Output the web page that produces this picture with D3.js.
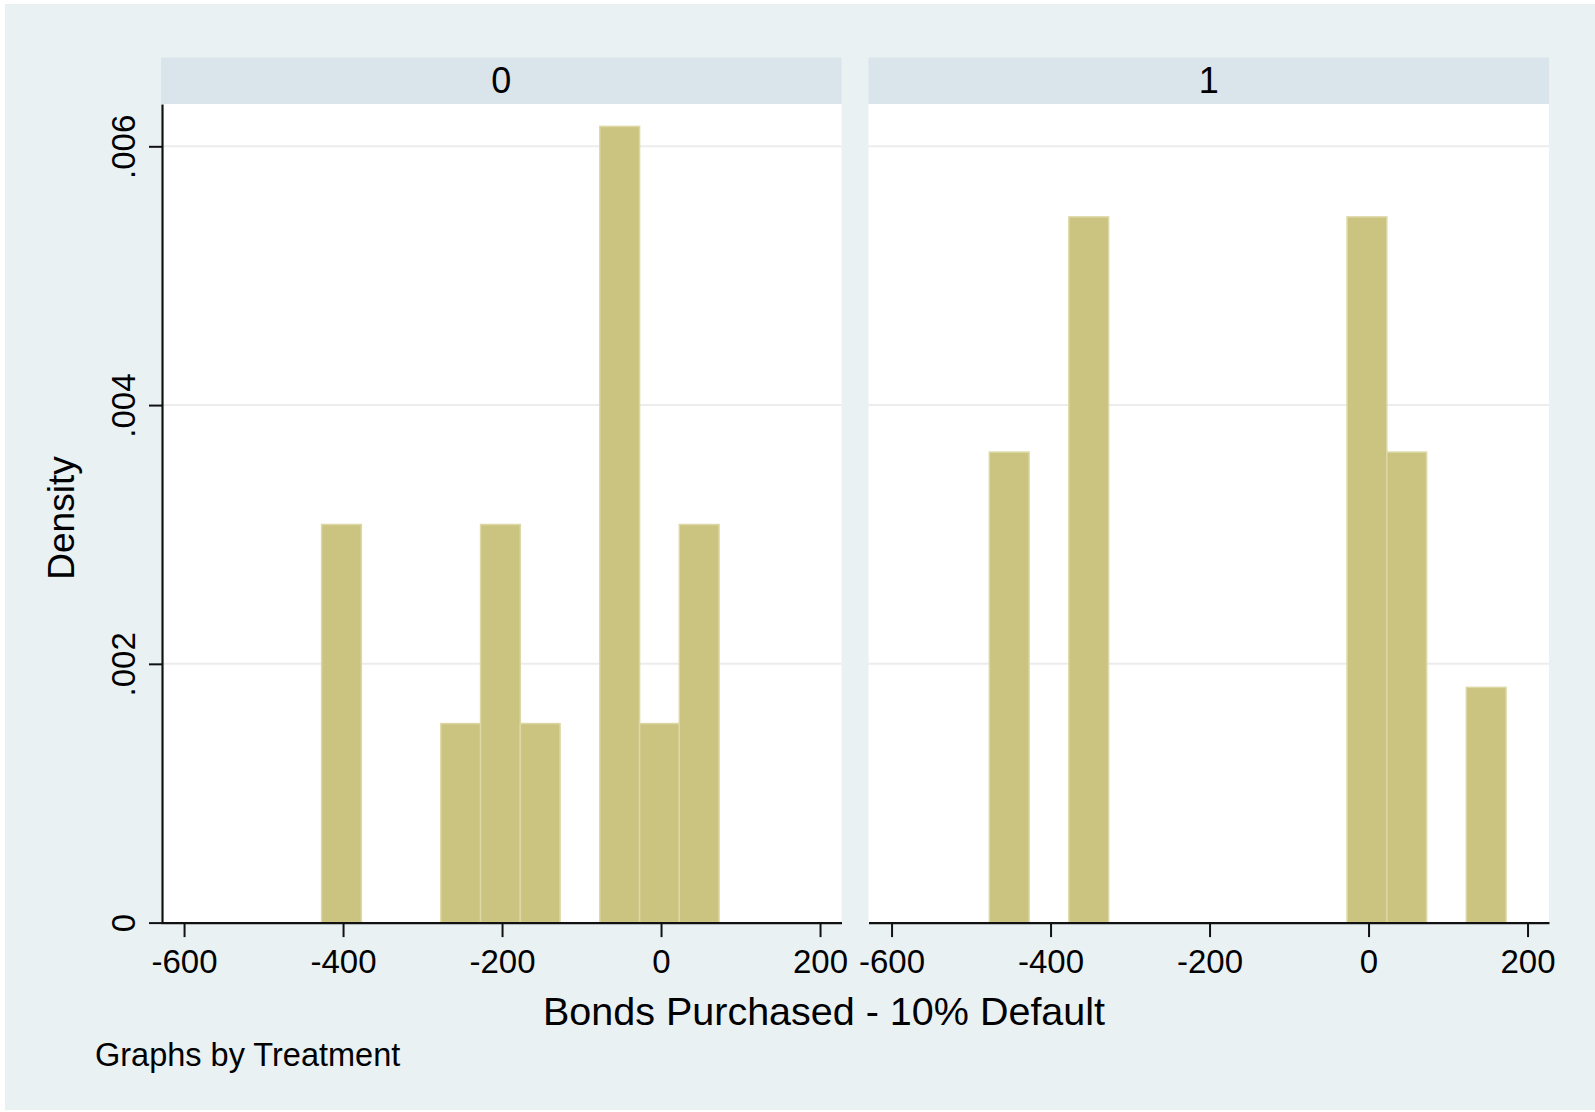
<!DOCTYPE html>
<html>
<head>
<meta charset="utf-8">
<script src="https://cdn.jsdelivr.net/npm/d3@7"></script>
<style>
  body { margin: 0; background: #fff; }
  text { font-family: "Liberation Sans", Arial, sans-serif; fill: #000; }
</style>
</head>
<body>
<script>
// histogram of bonds purchased, one panel per treatment group

var panelNames = ["0", "1"];
var binWidth = 50;
// left edge of each non-empty bin, and the number of subjects in it
var binStarts0 = [-427, -277, -227, -177, -77, -27, 23];
var counts0 = [2, 1, 2, 1, 4, 1, 2];
var binStarts1 = [-477, -377, -27, 23, 123];
var counts1 = [2, 3, 3, 2, 1];
var xTicks = [-600, -400, -200, 0, 200];
var yTicks = [0, 0.002, 0.004, 0.006];
var yTickLabels = ["0", ".002", ".004", ".006"];
var xTitle = "Bonds Purchased - 10% Default";
var yTitle = "Density";
var note = "Graphs by Treatment";

var width = 1595;
var height = 1112;
var panelLeft = [161, 868.5];
var panelW = 680.5;
var stripTop = 57.5;
var plotTop = 104;
var baseY = 922.6;

var svg = d3.select("body")
  .append("svg")
    .attr("width", width)
    .attr("height", height);

svg.append("rect")
  .attr("x", 5).attr("y", 4)
  .attr("width", width - 5).attr("height", 1106)
  .attr("fill", "#e9f1f3");

var y = d3.scaleLinear()
  .domain([0, 0.006327])
  .range([baseY, plotTop]);

var makeBins = function(starts, counts) {
  var n = d3.sum(counts);
  return starts.map(function(s, i) {
    return { x0: s, x1: s + binWidth, density: counts[i] / (n * binWidth) };
  });
};
var panels = [makeBins(binStarts0, counts0), makeBins(binStarts1, counts1)];

panels.forEach(function(bins, p) {
  var x = d3.scaleLinear()
    .domain([-629, 227])
    .range([panelLeft[p], panelLeft[p] + panelW]);

  var g = svg.append("g");

  // strip header
  g.append("rect")
    .attr("x", panelLeft[p]).attr("y", stripTop)
    .attr("width", panelW).attr("height", plotTop - stripTop)
    .attr("fill", "#d9e5eb");
  g.append("text")
    .attr("x", panelLeft[p] + panelW / 2)
    .attr("y", 93)
    .attr("text-anchor", "middle")
    .style("font-size", "36px")
    .text(panelNames[p]);

  // plot area
  g.append("rect")
    .attr("x", panelLeft[p]).attr("y", plotTop)
    .attr("width", panelW).attr("height", baseY - plotTop)
    .attr("fill", "#fff");

  g.selectAll(".grid")
    .data(yTicks.slice(1))
    .enter()
    .append("line")
      .attr("x1", panelLeft[p]).attr("x2", panelLeft[p] + panelW)
      .attr("y1", function(d) { return y(d); })
      .attr("y2", function(d) { return y(d); })
      .attr("stroke", "#ececec")
      .attr("stroke-width", 2);

  g.selectAll(".bar")
    .data(bins)
    .enter()
    .append("rect")
      .attr("x", function(d) { return x(d.x0); })
      .attr("y", function(d) { return y(d.density); })
      .attr("width", function(d) { return x(d.x1) - x(d.x0); })
      .attr("height", function(d) { return baseY - y(d.density); })
      .attr("fill", "#cbc480")
      .attr("stroke", "#dcd8a6")
      .attr("stroke-width", 1.5);

  // x axis, plain hyphen for negatives like the original
  var xAxis = g.append("g")
    .attr("transform", "translate(0," + baseY + ")")
    .call(d3.axisBottom(x).tickValues(xTicks)
      .tickFormat(function(d) { return String(d); })
      .tickSize(14.5).tickPadding(12).tickSizeOuter(0));
  xAxis.select(".domain").attr("stroke", "#111").attr("stroke-width", 2.2);
  xAxis.selectAll(".tick line").attr("stroke", "#111").attr("stroke-width", 2);
  xAxis.selectAll("text")
    .attr("font-family", "Liberation Sans, Arial, sans-serif")
    .style("font-size", "33px")
    .attr("fill", "#000");

  if (p == 0) {
    var yAxis = g.append("g")
      .attr("transform", "translate(" + (panelLeft[p] + 1) + ",0)")
      .call(d3.axisLeft(y).tickValues(yTicks)
        .tickFormat(function(d, i) { return yTickLabels[i]; })
        .tickSize(13).tickSizeOuter(0));
    yAxis.select(".domain").attr("stroke", "#111").attr("stroke-width", 2.2);
    yAxis.selectAll(".tick line").attr("stroke", "#111").attr("stroke-width", 2);
    yAxis.selectAll("text")
      .attr("x", 0).attr("y", 0).attr("dy", 0)
      .attr("transform", "translate(-27,0) rotate(-90)")
      .attr("text-anchor", "middle")
      .attr("font-family", "Liberation Sans, Arial, sans-serif")
      .style("font-size", "33px")
      .attr("fill", "#000");
  }
});

// titles
svg.append("text")
  .attr("x", 824).attr("y", 1025)
  .attr("text-anchor", "middle")
  .style("font-size", "39.5px")
  .text(xTitle);

svg.append("text")
  .attr("transform", "translate(74,518) rotate(-90)")
  .attr("text-anchor", "middle")
  .style("font-size", "37px")
  .text(yTitle);

svg.append("text")
  .attr("x", 95).attr("y", 1066)
  .style("font-size", "32.5px")
  .text(note);
</script>
</body>
</html>
